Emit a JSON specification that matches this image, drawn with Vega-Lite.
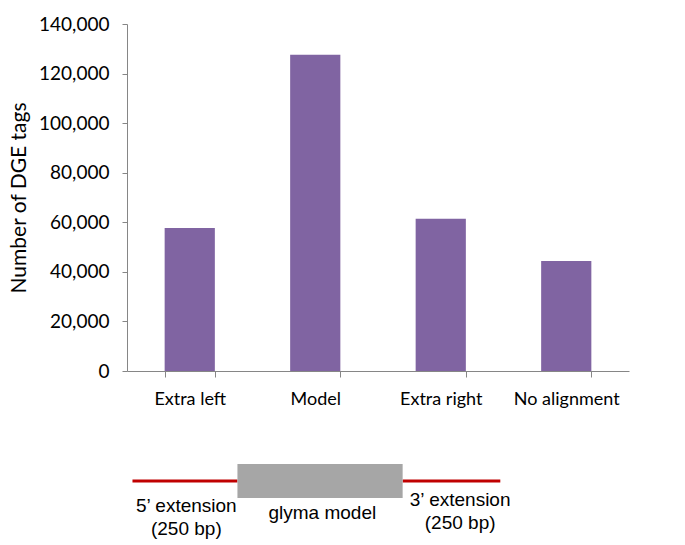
{
  "$schema": "https://vega.github.io/schema/vega-lite/v6.json",
  "background": "white",
  "padding": {"left": 8, "top": 15, "right": 5, "bottom": 0},
  "spacing": 0,
  "config": {"view": {"stroke": null}},
  "vconcat": [
    {
      "width": 502,
      "height": 347,
      "data": {"values": [
        {"category": "Extra left", "tags": 57700},
        {"category": "Model", "tags": 127600},
        {"category": "Extra right", "tags": 61400},
        {"category": "No alignment", "tags": 44400}
      ]},
      "mark": {"type": "bar", "color": "#8064A2"},
      "encoding": {
        "x": {
          "field": "category", "type": "nominal", "sort": null,
          "scale": {"paddingInner": 0.6, "paddingOuter": 0.3},
          "axis": {"title": null, "labelAngle": 0, "tickBand": "extent", "tickSize": 6,
            "domainColor": "#868686", "tickColor": "#868686", "labelFont": "Lato",
            "labelFontSize": 18, "labelColor": "#000000", "labelPadding": 13}
        },
        "y": {
          "field": "tags", "type": "quantitative",
          "scale": {"domain": [0, 140000], "nice": false},
          "axis": {"title": "Number of DGE tags", "values": [0,20000,40000,60000,80000,100000,120000,140000],
            "format": ",.0f", "grid": false, "tickSize": 5, "domainColor": "#868686", "tickColor": "#868686",
            "labelFont": "Lato", "labelFontSize": 19, "labelColor": "#000000", "labelPadding": 13,
            "titleFont": "Lato", "titleFontSize": 21, "titleFontWeight": "normal", "titleColor": "#000000",
            "titlePadding": 9}
        }
      }
    },
    {
      "width": 502,
      "height": 130,
      "layer": [
        {
          "data": {"values": [
            {"part": "5' extension", "start": 6, "end": 121},
            {"part": "3' extension", "start": 302, "end": 409}
          ]},
          "mark": {"type": "rule", "color": "#C00000", "strokeWidth": 3},
          "encoding": {
            "x": {"field": "start", "type": "quantitative", "scale": {"domain": [0, 502]}, "axis": null},
            "x2": {"field": "end"},
            "y": {"datum": 73, "type": "quantitative", "scale": {"domain": [130, 0]}, "axis": null}
          }
        },
        {
          "data": {"values": [{"part": "glyma model", "start": 121, "end": 302, "top": 56, "bottom": 90}]},
          "mark": {"type": "rect", "color": "#A6A6A6"},
          "encoding": {
            "x": {"field": "start", "type": "quantitative"},
            "x2": {"field": "end"},
            "y": {"field": "top", "type": "quantitative"},
            "y2": {"field": "bottom"}
          }
        },
        {
          "data": {"values": [
            {"label": "5\u2019 extension", "px": 65, "py": 98},
            {"label": "(250 bp)", "px": 65, "py": 121},
            {"label": "glyma model", "px": 214, "py": 105},
            {"label": "3\u2019 extension", "px": 365, "py": 92},
            {"label": "(250 bp)", "px": 365, "py": 115}
          ]},
          "mark": {"type": "text", "font": "Liberation Sans", "fontSize": 19, "color": "#000000", "align": "center", "baseline": "middle"},
          "encoding": {
            "x": {"field": "px", "type": "quantitative"},
            "y": {"field": "py", "type": "quantitative"},
            "text": {"field": "label"}
          }
        }
      ]
    }
  ]
}
